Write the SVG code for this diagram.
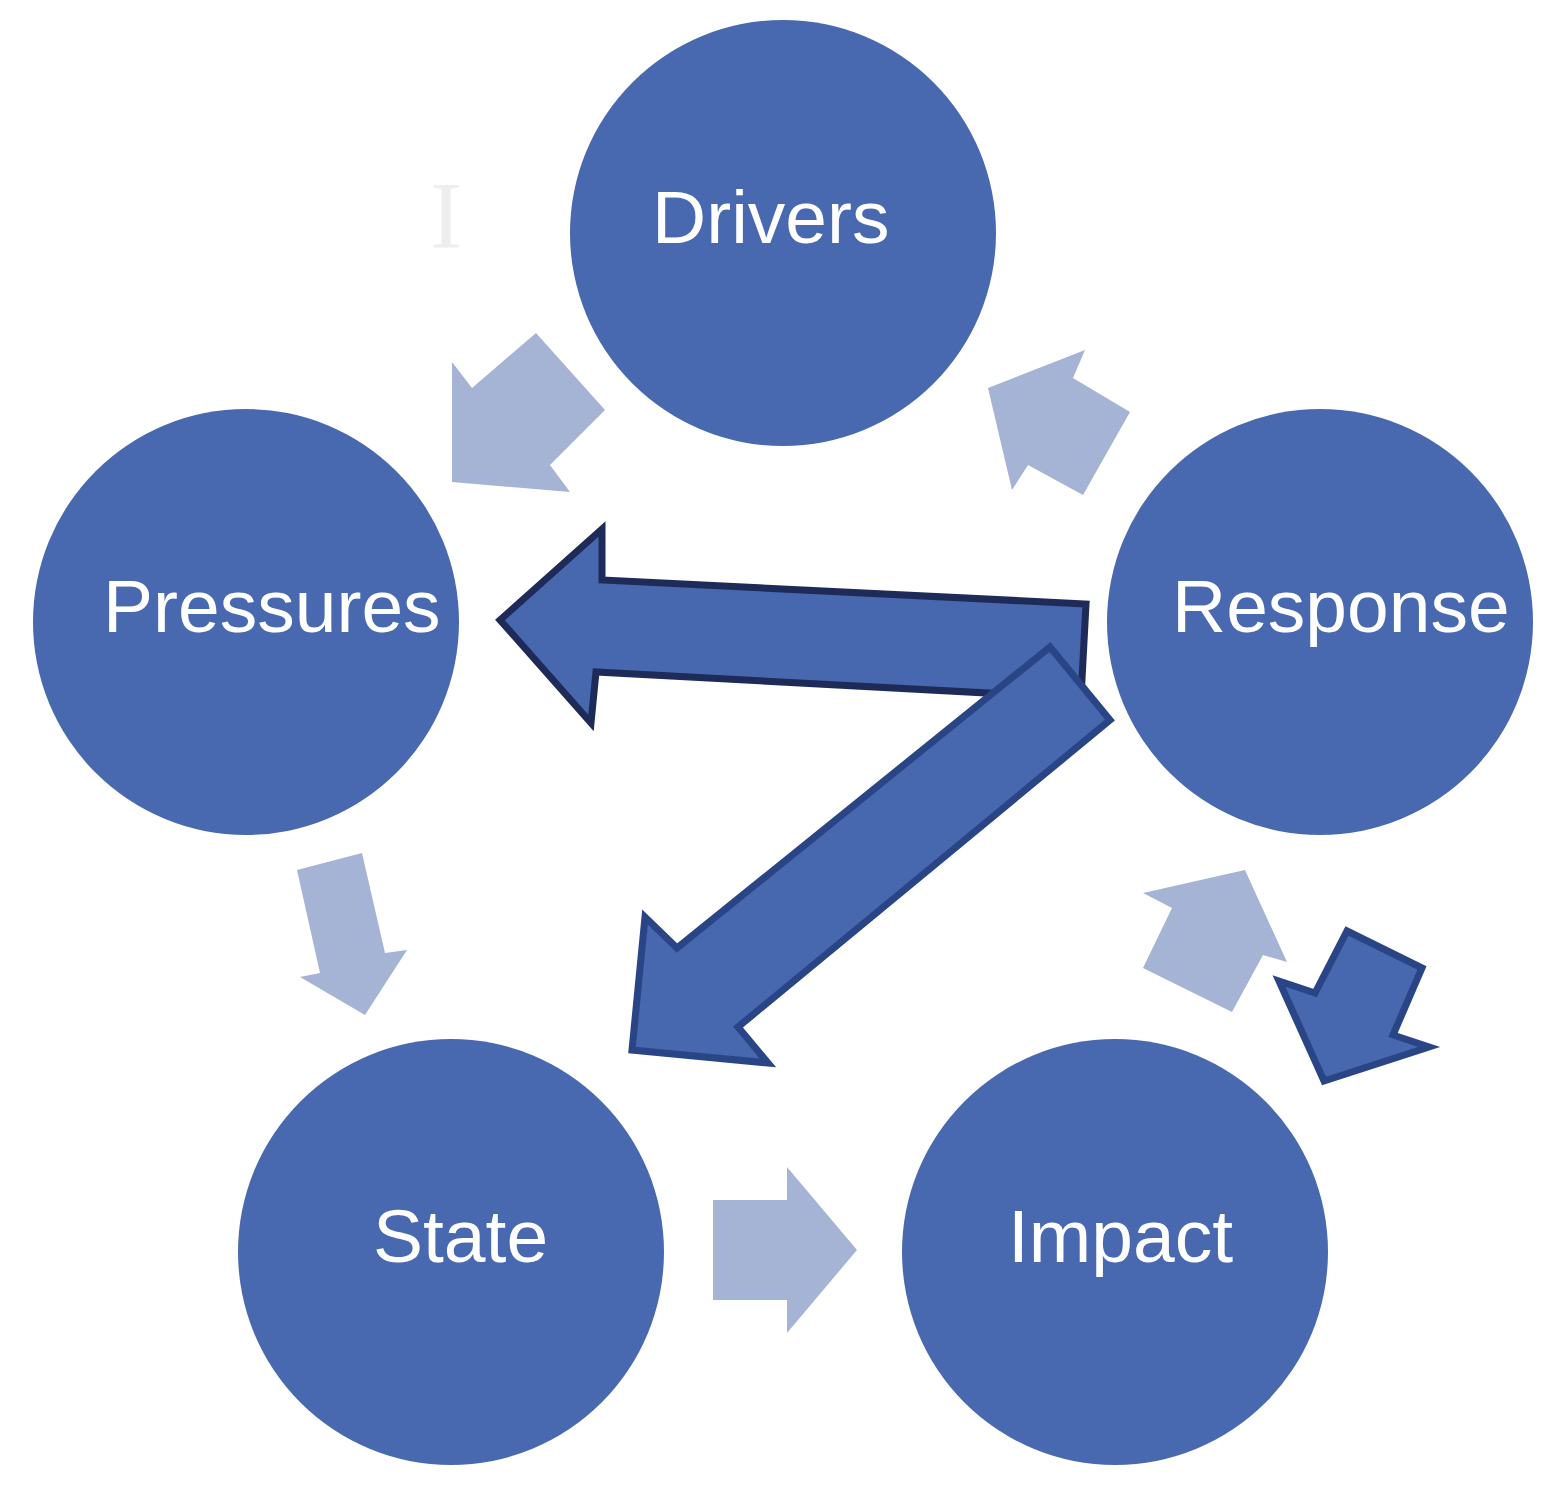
<svg xmlns="http://www.w3.org/2000/svg" width="1560" height="1497" viewBox="0 0 1560 1497">
<style>
.node{fill:#4869af}
.lbl{font-family:"Liberation Sans",Arial,sans-serif;font-size:75px;fill:#ffffff}
.light{fill:#a5b3d5}
.dark{fill:#4767ae;stroke-linejoin:miter}
</style>
<rect width="1560" height="1497" fill="#ffffff"/>
<text x="430" y="248" font-family="Liberation Serif,serif" font-size="96" fill="#eeeeee">I</text>
<g id="connectors">
<polygon class="light" points="452,362 472,388 536,333 605,410 550,465 570,492 452,482"/>
<polygon class="light" points="988,388 1085,350 1073,378 1130,412 1083,495 1028,465 1012,490"/>
<polygon class="light" points="297,870 362,853 385,953 407,950 365,1015 300,977 320,973"/>
<polygon class="light" points="713,1200 787,1200 787,1167 857,1250 787,1333 787,1300 713,1300"/>
<polygon class="light" points="1143,893 1245,870 1287,962 1263,955 1232,1012 1143,968 1172,908"/>
<polygon class="dark" stroke="#1e2b58" stroke-width="7" points="500,620 602,529 602,580 1086,604 1081,698 596,672 591,723"/>
<polygon class="dark" stroke="#2a4586" stroke-width="7" points="1050,647 1110,720 738,1027 768,1063 632,1050 645,917 677,948"/>
<polygon class="dark" stroke="#2a4586" stroke-width="7" points="1347,931 1422,968 1393,1035 1429,1047 1324,1081 1279,981 1315,993"/>
</g>
<g id="drivers"><circle class="node" cx="783" cy="233" r="213"/><text class="lbl" x="652" y="243">Drivers</text></g>
<g id="pressures"><circle class="node" cx="246" cy="622" r="213"/><text class="lbl" x="103" y="632">Pressures</text></g>
<g id="response"><circle class="node" cx="1320" cy="622" r="213"/><text class="lbl" x="1172" y="632">Response</text></g>
<g id="state"><circle class="node" cx="451" cy="1252" r="213"/><text class="lbl" x="373" y="1262">State</text></g>
<g id="impact"><circle class="node" cx="1115" cy="1252" r="213"/><text class="lbl" x="1008" y="1262">Impact</text></g>
</svg>
